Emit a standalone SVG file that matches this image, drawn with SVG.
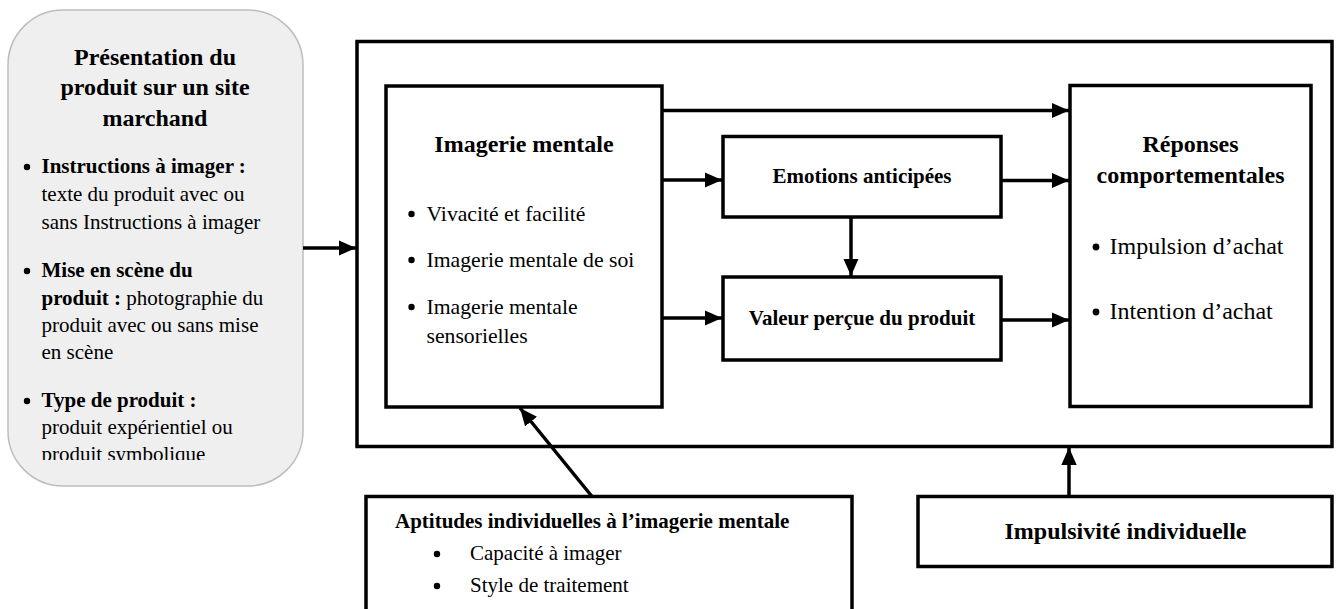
<svg xmlns="http://www.w3.org/2000/svg" width="1336" height="609" viewBox="0 0 1336 609">
<style>
.box{fill:#fff;stroke:#000;stroke-width:3.5}
.frame{fill:none;stroke:#000;stroke-width:3.5}
.t{font-family:"Liberation Serif","Times New Roman",serif;fill:#000}
.b{font-weight:bold}
.c{stroke:#000;stroke-width:3.5;fill:none}
.dot{fill:#000}
</style>
<defs>
<marker id="ah" markerWidth="5" markerHeight="4.4" refX="5" refY="2.2" orient="auto" markerUnits="strokeWidth">
<path d="M0,0 L5,2.2 L0,4.4 Z" fill="#000"/>
</marker>
<clipPath id="lclip"><rect x="0" y="0" width="310" height="460"/></clipPath>
</defs>
<rect x="0" y="0" width="1336" height="609" fill="#fff"/>

<g id="presentation">
<rect x="8" y="10" width="295" height="476" rx="55" ry="55" fill="#efefef" stroke="#bdbdbd" stroke-width="1.5"/>
<g class="t" clip-path="url(#lclip)">
<text class="b" font-size="24" text-anchor="middle" x="155" y="65">Présentation du</text>
<text class="b" font-size="24" text-anchor="middle" x="155" y="95">produit sur un site</text>
<text class="b" font-size="24" text-anchor="middle" x="155" y="126">marchand</text>
<circle class="dot" cx="27" cy="167" r="3.2"/>
<circle class="dot" cx="27" cy="271" r="3.2"/>
<circle class="dot" cx="27" cy="401" r="3.2"/>
<g font-size="21">
<text x="41.5" y="173" class="b">Instructions à imager :</text>
<text x="41.5" y="201">texte du produit avec ou</text>
<text x="41.5" y="229">sans Instructions à imager</text>
<text x="41.5" y="277" class="b">Mise en scène du</text>
<text x="41.5" y="305"><tspan font-weight="bold">produit :</tspan> photographie du</text>
<text x="41.5" y="332">produit avec ou sans mise</text>
<text x="41.5" y="359">en scène</text>
<text x="41.5" y="407" class="b">Type de produit :</text>
<text x="41.5" y="434">produit expérientiel ou</text>
<text x="41.5" y="461">produit symbolique</text>
</g>
</g>
</g>

<g id="cadre">
<rect class="frame" x="357" y="41.5" width="975" height="405"/>
</g>

<g id="imagerie">
<rect class="box" x="386" y="86" width="276" height="321"/>
<text class="t b" font-size="24" text-anchor="middle" x="524" y="152">Imagerie mentale</text>
<circle class="dot" cx="411.5" cy="214" r="3.2"/>
<circle class="dot" cx="411.5" cy="260" r="3.2"/>
<circle class="dot" cx="411.5" cy="307" r="3.2"/>
<g class="t" font-size="21.7">
<text x="426.5" y="221">Vivacité et facilité</text>
<text x="426.5" y="267">Imagerie mentale de soi</text>
<text x="426.5" y="314">Imagerie mentale</text>
<text x="426.5" y="343">sensorielles</text>
</g>
</g>

<g id="emotions">
<rect class="box" x="723" y="136.5" width="278" height="80.5"/>
<text class="t b" font-size="21" text-anchor="middle" x="862" y="183">Emotions anticipées</text>
</g>

<g id="valeur">
<rect class="box" x="723" y="277" width="278" height="83"/>
<text class="t b" font-size="21" text-anchor="middle" x="862" y="325">Valeur perçue du produit</text>
</g>

<g id="reponses">
<rect class="box" x="1070" y="85.5" width="241" height="321"/>
<text class="t b" font-size="24" text-anchor="middle" x="1190.5" y="152">Réponses</text>
<text class="t b" font-size="24" text-anchor="middle" x="1190.5" y="183">comportementales</text>
<circle class="dot" cx="1096" cy="247" r="3.4"/>
<circle class="dot" cx="1096" cy="312" r="3.4"/>
<g class="t" font-size="24">
<text x="1109.5" y="254">Impulsion d’achat</text>
<text x="1109.5" y="319">Intention d’achat</text>
</g>
</g>

<g id="aptitudes">
<rect class="box" x="366" y="496.5" width="486" height="130"/>
<text class="t b" font-size="21" x="395" y="528">Aptitudes individuelles à l’imagerie mentale</text>
<circle class="dot" cx="437" cy="554" r="3.2"/>
<circle class="dot" cx="437" cy="586" r="3.2"/>
<g class="t" font-size="21">
<text x="470" y="560">Capacité à imager</text>
<text x="470" y="592">Style de traitement</text>
</g>
</g>

<g id="impulsivite">
<rect class="box" x="918" y="496.5" width="414" height="70"/>
<text class="t b" font-size="24" text-anchor="middle" x="1125.5" y="539">Impulsivité individuelle</text>
</g>

<g id="connectors">
<line class="c" x1="303" y1="248" x2="356" y2="248" marker-end="url(#ah)"/>
<line class="c" x1="662" y1="110.5" x2="1069" y2="110.5" marker-end="url(#ah)"/>
<line class="c" x1="662" y1="180" x2="722" y2="180" marker-end="url(#ah)"/>
<line class="c" x1="662" y1="318" x2="722" y2="318" marker-end="url(#ah)"/>
<line class="c" x1="1001" y1="180.5" x2="1069" y2="180.5" marker-end="url(#ah)"/>
<line class="c" x1="1001" y1="320" x2="1069" y2="320" marker-end="url(#ah)"/>
<line class="c" x1="851" y1="217" x2="851" y2="276" marker-end="url(#ah)"/>
<line class="c" x1="592" y1="496.5" x2="520" y2="408" marker-end="url(#ah)"/>
<line class="c" x1="1069" y1="496.5" x2="1069" y2="447.5" marker-end="url(#ah)"/>
</g>
</svg>
